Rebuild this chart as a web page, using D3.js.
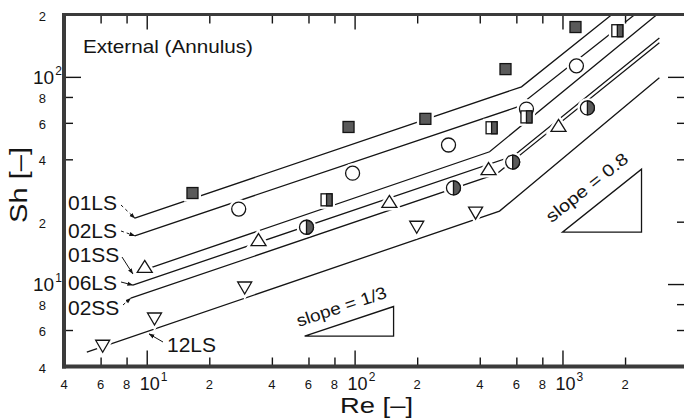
<!DOCTYPE html>
<html>
<head>
<meta charset="utf-8">
<script src="https://cdn.jsdelivr.net/npm/d3@7"></script>
<style>
  html, body { margin: 0; padding: 0; background: #fff; }
  svg { display: block; font-family: "Liberation Sans", Arial, sans-serif; }
  .narrow { font-family: "Liberation Sans Narrow", "Liberation Sans", Arial, sans-serif; }
</style>
</head>
<body>
<svg id="chart" width="684" height="420"></svg>
<script>
// Sherwood number against Reynolds number, external flow in an annulus (log-log)

// ---- correlation lines: [Re, Sh] at start, break point, end ----
const line01LS = [[8.76, 20.8], [635, 89.5], [1730, 200]];
const line02LS = [[8.76, 17.1], [608, 71.6], [2230, 200]];
const line01SS = [[8.57, 11.2], [446, 43.5], [2850, 200]];
const line06LS = [[8.57, 9.89], [581, 41.5], [2925, 154]];
const line02SS = [[8.38, 8.55], [482, 34.0], [2925, 146]];
const line12LS = [[5.15, 4.69], [498, 22.5], [2925, 98.9]];
const lineNames = ["01LS", "02LS", "01SS", "06LS", "02SS", "12LS"];

// ---- measured points [Re, Sh] ----
const filledSquares = [[16.6, 27.5], [93.5, 57.3], [219, 62.7], [532, 109], [1155, 174]];
const openCircles   = [[27.7, 23.0], [97.8, 34.3], [283, 46.9], [671, 69.9], [1167, 113]];
const halfSquares   = [[73.3, 25.5], [456, 56.8], [671, 64.1], [1836, 167]];
const upTriangles   = [[9.78, 12.1], [34.5, 16.3], [147, 24.9], [441, 35.9], [957, 58.0]];
const halfCircles   = [[58.7, 18.8], [299, 29.1], [576, 38.8], [1318, 70.8]];
const downTriangles = [[6.14, 5.01], [10.9, 6.78], [29.6, 9.57], [199, 18.8], [382, 22.0]];

// ---- slope guides: [Re left, Sh left, Re right] and the slope they show ----
const slopeBases  = [[57.5, 5.61, 154], [1000, 17.8, 2400]];
const slopeValues = [1 / 3, 0.8];
const slopeLabels = ["slope = 1/3", "slope = 0.8"];

// ---- axis ticks and labels ----
const xMajorTicks = [10, 100, 1000];
const xMinorTicks = [6, 8, 20, 40, 60, 80, 200, 400, 600, 800, 2000];
const xLabelValues = [4, 6, 8, 10, 20, 40, 60, 80, 100, 200, 400, 600, 800, 1000, 2000];
const yMajorTicks = [10, 100];
const yMinorTicks = [6, 8, 20, 40, 60, 80];
const yLeftMinorTicks = [6, 40, 60, 80];
const yLabelValues = [4, 6, 8, 10, 20, 40, 60, 80, 100, 200];

const svg = d3.select("#chart");
const ink = "#141414";
const grey = "#5a5a5a";
const axisInk = "#3b3b3b";

const x = d3.scaleLog().domain([4, 3800]).range([64, 683]);
const y = d3.scaleLog().domain([4, 200]).range([366.5, 14.5]);

// arrowhead for the line-name leaders
svg.append("defs").append("marker")
  .attr("id", "arrow").attr("viewBox", "0 0 10 10")
  .attr("refX", 9).attr("refY", 5)
  .attr("markerWidth", 6).attr("markerHeight", 6)
  .attr("orient", "auto-start-reverse")
  .append("path").attr("d", "M0,1.5 L10,5 L0,8.5 Z").attr("fill", ink);

// ---- correlation lines ----
const lines = [line01LS, line02LS, line01SS, line06LS, line02SS, line12LS];
const lineGen = d3.line().x(d => x(d[0])).y(d => y(d[1]));
const gLines = svg.append("g")
  .attr("fill", "none").attr("stroke", ink).attr("stroke-width", 1.3);
lines.forEach(l => gLines.append("path").attr("d", lineGen(l)));

// ---- point symbols ----
function shape(g, kind, halo) {
  const stroke = halo ? "#fff" : ink;
  const sw = halo ? 6 : 1.3;
  const baseFill = halo ? "#fff" : (kind === "filledSquare" ? grey : "#fff");
  if (kind === "filledSquare") {
    g.append("rect").attr("x", -5.5).attr("y", -5.5).attr("width", 11).attr("height", 11)
      .attr("fill", baseFill).attr("stroke", stroke).attr("stroke-width", sw);
  } else if (kind === "circle" || kind === "halfCircle") {
    g.append("circle").attr("r", 7)
      .attr("fill", baseFill).attr("stroke", stroke).attr("stroke-width", sw);
    if (!halo && kind === "halfCircle") {
      g.append("path").attr("d", "M0,-7 A7,7 0 0 1 0,7 Z")
        .attr("fill", grey).attr("stroke", ink).attr("stroke-width", 1.3);
    }
  } else if (kind === "halfSquare") {
    g.append("rect").attr("x", -5.5).attr("y", -6).attr("width", 11).attr("height", 12)
      .attr("fill", baseFill).attr("stroke", stroke).attr("stroke-width", sw);
    if (!halo) {
      g.append("rect").attr("x", 0).attr("y", -6).attr("width", 5.5).attr("height", 12)
        .attr("fill", grey).attr("stroke", ink).attr("stroke-width", 1.3);
    }
  } else if (kind === "up") {
    g.append("path").attr("d", "M0,-6.5 L7.5,5.5 L-7.5,5.5 Z")
      .attr("fill", baseFill).attr("stroke", stroke).attr("stroke-width", sw)
      .attr("stroke-linejoin", "miter");
  } else if (kind === "down") {
    g.append("path").attr("d", "M-7,-6 L7,-6 L0,6 Z")
      .attr("fill", baseFill).attr("stroke", stroke).attr("stroke-width", sw)
      .attr("stroke-linejoin", "miter");
  }
}

const pointSets = [
  [openCircles, "circle"],
  [filledSquares, "filledSquare"],
  [halfSquares, "halfSquare"],
  [upTriangles, "up"],
  [halfCircles, "halfCircle"],
  [downTriangles, "down"]
];

// white halos break the lines around each symbol
const gHalo = svg.append("g");
pointSets.forEach(([pts, kind]) => pts.forEach(p => {
  shape(gHalo.append("g").attr("transform", `translate(${x(p[0])},${y(p[1])})`), kind, true);
}));
const gPts = svg.append("g");
pointSets.forEach(([pts, kind]) => pts.forEach(p => {
  shape(gPts.append("g").attr("transform", `translate(${x(p[0])},${y(p[1])})`), kind, false);
}));

// ---- slope guide triangles ----
slopeBases.forEach((b, i) => {
  const [re0, sh0, re1] = b;
  const sh1 = sh0 * Math.pow(re1 / re0, slopeValues[i]);
  const p0 = [x(re0), y(sh0)], p1 = [x(re1), y(sh0)], p2 = [x(re1), y(sh1)];
  svg.append("path")
    .attr("d", `M${p0[0]},${p0[1]} L${p1[0]},${p1[1]} L${p2[0]},${p2[1]} Z`)
    .attr("fill", "none").attr("stroke", ink).attr("stroke-width", 1.3);
  const ang = Math.atan2(p2[1] - p0[1], p2[0] - p0[0]) * 180 / Math.PI;
  const off = i === 0 ? [-6, -9] : [-11, -9];
  const len = i === 0 ? 94 : 100;
  svg.append("text")
    .attr("transform", `translate(${p0[0] + off[0]},${p0[1] + off[1]}) rotate(${ang})`)
    .attr("font-size", 17).attr("fill", ink)
    .attr("textLength", len).attr("lengthAdjust", "spacingAndGlyphs")
    .text(slopeLabels[i]);
});

// ---- frame: ticks via d3 axes, then heavy axis lines ----
function tickRow(axisFn, scale, values, size, transform) {
  const g = svg.append("g").attr("transform", transform)
    .call(axisFn(scale).tickValues(values).tickSize(size).tickFormat(""));
  g.select(".domain").remove();
  g.selectAll(".tick line").attr("stroke", ink).attr("stroke-width", 1.4);
}
const x0 = x(4), yb = y(4), yt = y(200);
tickRow(d3.axisBottom, x, xMinorTicks, -9, `translate(0,${yb})`);
tickRow(d3.axisBottom, x, xMajorTicks, -16, `translate(0,${yb})`);
tickRow(d3.axisTop, x, xMinorTicks, -9, `translate(0,${yt})`);
tickRow(d3.axisTop, x, xMajorTicks, -15, `translate(0,${yt})`);
tickRow(d3.axisLeft, y, yLeftMinorTicks, -9, `translate(${x0},0)`);
tickRow(d3.axisLeft, y, yMajorTicks.filter(v => v === 100), -17, `translate(${x0},0)`);
tickRow(d3.axisRight, y, yMinorTicks, -7, `translate(684,0)`);
tickRow(d3.axisRight, y, yMajorTicks, -16, `translate(684,0)`);

svg.append("line").attr("x1", x0).attr("x2", x0).attr("y1", yt - 1.5).attr("y2", yb + 2)
  .attr("stroke", axisInk).attr("stroke-width", 4);
svg.append("line").attr("x1", x0 - 2).attr("x2", 684).attr("y1", yb).attr("y2", yb)
  .attr("stroke", axisInk).attr("stroke-width", 4);
svg.append("line").attr("x1", x0 - 2).attr("x2", 684).attr("y1", yt).attr("y2", yt)
  .attr("stroke", axisInk).attr("stroke-width", 3);

// ---- tick labels (powers of ten get a raised exponent) ----
const decade = v => Math.abs(Math.log10(v) - Math.round(Math.log10(v))) < 1e-9;
const mant = v => String(Math.round(v / Math.pow(10, Math.floor(Math.log10(v) + 1e-9))));

function powerLabel(px, py, exp, size) {
  const t = svg.append("text").attr("class", "narrow")
    .attr("x", px).attr("y", py).attr("font-size", size).attr("fill", ink);
  t.append("tspan").text("10");
  t.append("tspan").attr("dx", 1).attr("dy", -9).attr("font-size", 12).text(exp);
}

xLabelValues.forEach(v => {
  const px = x(v);
  if (decade(v)) {
    powerLabel(px - 7, 390, String(Math.round(Math.log10(v))), 18);
  } else {
    svg.append("text").attr("x", px).attr("y", 389).attr("text-anchor", "middle")
      .attr("font-size", 13).attr("fill", ink).text(mant(v));
  }
});

yLabelValues.forEach(v => {
  const py = y(v);
  if (decade(v)) {
    powerLabel(33, py + 7, String(Math.round(Math.log10(v))), 19);
  } else {
    svg.append("text").attr("x", 46).attr("y", py + 6).attr("text-anchor", "end")
      .attr("font-size", 13).attr("fill", ink).text(mant(v));
  }
});

// ---- axis titles ----
svg.append("text").attr("x", 340).attr("y", 413)
  .attr("font-size", 22).attr("fill", ink)
  .attr("textLength", 73).attr("lengthAdjust", "spacingAndGlyphs")
  .text("Re [–]");
svg.append("text").attr("transform", "translate(27,223) rotate(-90)")
  .attr("font-size", 23).attr("fill", ink)
  .attr("textLength", 76).attr("lengthAdjust", "spacingAndGlyphs")
  .text("Sh [–]");

svg.append("text").attr("x", 83).attr("y", 53)
  .attr("font-size", 19).attr("fill", ink)
  .attr("textLength", 170).attr("lengthAdjust", "spacingAndGlyphs")
  .text("External (Annulus)");

// ---- line names with leaders pointing at each line's start ----
const nameSpots = [[68, 210], [68, 238], [68, 262], [68, 290], [68, 315], [167, 352]];
const leaderTails = [[121, 205], [121, 231], [122, 257], [121, 282], [123, 305], [163, 342]];
const leaderDash = ["3,3", "3,3", null, null, "3,2", null];

function shOnLine(l, re) {
  for (let k = 0; k < l.length - 1; k++) {
    const a = l[k], b = l[k + 1];
    if (re <= b[0] || k === l.length - 2) {
      const t = (Math.log(re) - Math.log(a[0])) / (Math.log(b[0]) - Math.log(a[0]));
      return Math.exp(Math.log(a[1]) + t * (Math.log(b[1]) - Math.log(a[1])));
    }
  }
}

lineNames.forEach((name, i) => {
  svg.append("text").attr("x", nameSpots[i][0]).attr("y", nameSpots[i][1])
    .attr("font-size", 21).attr("fill", ink).text(name);
  let tip;
  if (i === 5) {
    const re = x.invert(149);
    tip = [149, y(shOnLine(lines[i], re)) + 3];
  } else {
    tip = [x(lines[i][0][0]), y(lines[i][0][1])];
  }
  const ln = svg.append("line")
    .attr("x1", leaderTails[i][0]).attr("y1", leaderTails[i][1])
    .attr("x2", tip[0]).attr("y2", tip[1])
    .attr("stroke", ink).attr("stroke-width", 1)
    .attr("marker-end", "url(#arrow)");
  if (leaderDash[i]) ln.attr("stroke-dasharray", leaderDash[i]);
});
</script>
</body>
</html>
